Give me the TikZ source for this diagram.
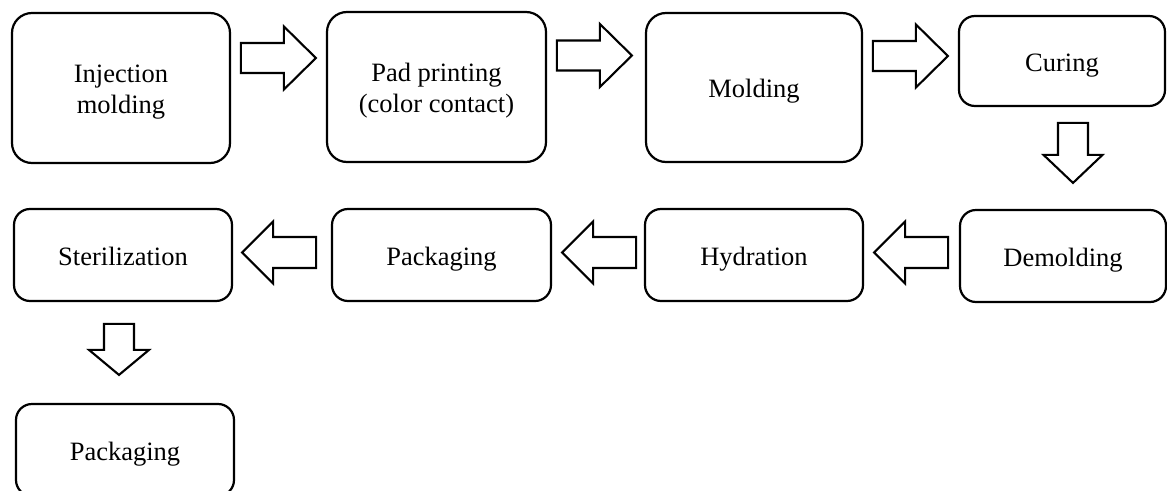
\documentclass[tikz,border=0pt]{standalone}
\usepackage{fontspec}
\setmainfont{Liberation Serif}
\usetikzlibrary{calc}
\begin{document}
\begin{tikzpicture}[x=1pt,y=-1pt,
  box/.style={draw=black, line width=2.2pt, rounded corners=#1, align=center, inner sep=0pt,
              font=\fontsize{26.5}{30.5}\selectfont},
  box/.default=20pt,
  oneline/.style={text height=20pt, text depth=0pt},
  blk/.style={draw=black, line width=2.1pt, fill=white, line join=miter}]
\useasboundingbox (0,0) rectangle (1167,490);
\fill[white] (0,0) rectangle (1167,490);
\begin{scope}
\clip (0,0) rectangle (1167,490);
% first row
\node[box, minimum width=218pt, minimum height=150pt] (inj) at (121,88) {\rule{0pt}{26pt}Injection\\molding};
\node[box, minimum width=219pt, minimum height=150pt] (pad) at (436.5,87) {\rule{0pt}{26pt}Pad printing\\(color contact)};
\node[box, oneline, minimum width=216pt, minimum height=149pt] (mold) at (754,87.5) {Molding};
\node[box=16pt, oneline, minimum width=206pt, minimum height=90pt] (cur) at (1062,61) {Curing};
% second row
\node[box=16pt, oneline, minimum width=206pt, minimum height=92pt] (demold) at (1063,256) {Demolding};
\node[box=16pt, oneline, minimum width=218pt, minimum height=92pt] (hyd) at (754,255) {Hydration};
\node[box=16pt, oneline, minimum width=219pt, minimum height=92pt] (packa) at (441.5,255) {Packaging};
\node[box=16pt, oneline, minimum width=218pt, minimum height=92pt] (ster) at (123,255) {Sterilization};
% third row
\node[box=16pt, oneline, minimum width=218pt, minimum height=92pt] (packb) at (125,450) {Packaging};
\end{scope}
% block arrows, right-pointing (tip coordinates)
\coordinate (t1) at ($(pad.west)+(-10,-29)$);
\coordinate (t2) at ($(mold.west)+(-13,-32)$);
\coordinate (t3) at ($(cur.west)+(-10,-5)$);
\foreach \t in {t1,t2,t3}{
  \draw[blk] (\t) -- ++(-32,-31.5) -- ++(0,16.5) -- ++(-43,0) -- ++(0,30) -- ++(43,0) -- ++(0,16.5) -- cycle;
}
% block arrows, left-pointing
\coordinate (l1) at ($(hyd.east)+(10,-2.5)$);
\coordinate (l2) at ($(packa.east)+(10,-2.5)$);
\coordinate (l3) at ($(ster.east)+(9,-2.5)$);
\foreach \t in {l1,l2,l3}{
  \draw[blk] (\t) -- ++(31,-31) -- ++(0,15.5) -- ++(43,0) -- ++(0,31) -- ++(-43,0) -- ++(0,15.5) -- cycle;
}
% block arrows, down-pointing
\coordinate (d1) at ($(demold.north)+(10,-26)$);
\draw[blk] (d1) -- ++(-29.5,-28) -- ++(14.5,0) -- ++(0,-32) -- ++(30,0) -- ++(0,32) -- ++(14.5,0) -- cycle;
\coordinate (d2) at ($(packb.north)+(-6,-28)$);
\draw[blk] (d2) -- ++(-30,-25) -- ++(15,0) -- ++(0,-26) -- ++(30,0) -- ++(0,26) -- ++(15,0) -- cycle;
\end{tikzpicture}
\end{document}
